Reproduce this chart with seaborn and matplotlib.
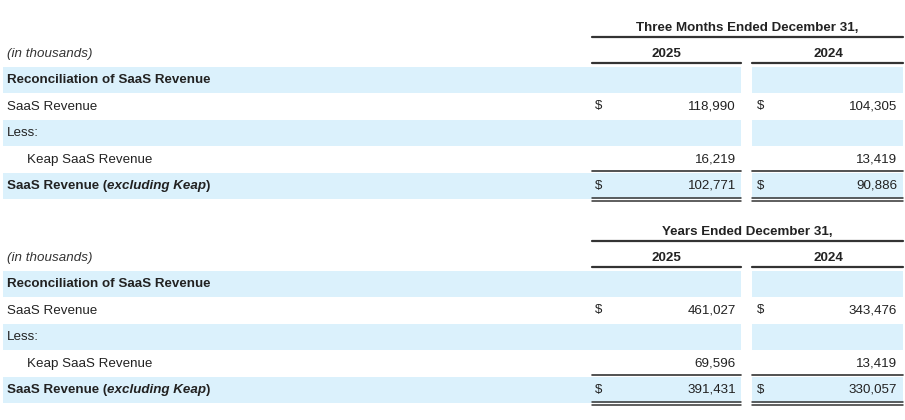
import matplotlib
matplotlib.use("Agg")
import matplotlib.pyplot as plt
import seaborn as sns

sns.set_theme(style="white")
plt.rcParams['font.family'] = ['Liberation Sans', 'DejaVu Sans']

titles = ["Three Months Ended December 31,", "Years Ended December 31,"]
years = ["2025", "2024"]
row_labels = ["Reconciliation of SaaS Revenue", "SaaS Revenue", "Less:", "Keap SaaS Revenue", "SaaS Revenue"]
vals_2025 = [[None, "118,990", None, "16,219", "102,771"],
             [None, "461,027", None, "69,596", "391,431"]]
vals_2024 = [[None, "104,305", None, "13,419", "90,886"],
             [None, "343,476", None, "13,419", "330,057"]]
dollar_rows = [1, 4]

band = "#dbf1fc"
fig = plt.figure(figsize=(9.05, 4.2), dpi=100)
ax = fig.add_axes([0, 0, 1, 1])
ax.set_xlim(0, 905); ax.set_ylim(420, 0); ax.axis("off")
fs = 9.6
c1 = (592, 741); c2 = (752, 903)

for t in range(2):
    off = 204 * t
    ax.text(747, 28 + off, titles[t], ha="center", va="center", fontsize=fs, weight="bold", color="#222")
    ax.plot([592, 903], [37 + off] * 2, color="#333", lw=1.6)
    ax.text(7, 54 + off, "(in thousands)", ha="left", va="center", fontsize=fs, style="italic", color="#333")
    ax.text(666, 54 + off, years[0], ha="center", va="center", fontsize=fs, weight="bold", color="#222")
    ax.text(828, 54 + off, years[1], ha="center", va="center", fontsize=fs, weight="bold", color="#222")
    for a, b in (c1, c2):
        ax.plot([a, b], [63 + off] * 2, color="#333", lw=1.6)
    for i, lab in enumerate(row_labels):
        yc = 80 + 26.5 * i + off
        if i in (0, 2, 4):
            ax.fill_between([3, 741], yc - 13, yc + 13, color=band, lw=0)
            ax.fill_between([752, 903], yc - 13, yc + 13, color=band, lw=0)
        bold = i in (0, 4)
        x = 27 if i == 3 else 7
        if i == 4:
            t1 = ax.text(x, yc, "SaaS Revenue (", ha="left", va="center", fontsize=fs, weight="bold", color="#222")
            fig.canvas.draw()
            bb = t1.get_window_extent()
            x2 = bb.x1
            t2 = ax.text(x2, 420 - yc, "excluding Keap", transform=None, ha="left", va="center",
                         fontsize=fs, weight="bold", style="italic", color="#222")
            bb2 = t2.get_window_extent(renderer=fig.canvas.get_renderer())
            ax.text(bb2.x1, 420 - yc, ")", transform=None, ha="left", va="center", fontsize=fs, weight="bold", color="#222")
        else:
            ax.text(x, yc, lab, ha="left", va="center", fontsize=fs, weight="bold" if bold else "normal", color="#222")
        if i in dollar_rows:
            ax.text(595, yc, "$", ha="left", va="center", fontsize=fs, color="#222")
            ax.text(757, yc, "$", ha="left", va="center", fontsize=fs, color="#222")
        if vals_2025[t][i]:
            ax.text(736, yc, vals_2025[t][i], ha="right", va="center", fontsize=fs, color="#222")
            ax.text(897, yc, vals_2024[t][i], ha="right", va="center", fontsize=fs, color="#222")
    for a, b in (c1, c2):
        ax.plot([a, b], [171 + off] * 2, color="#333", lw=1.2)
        ax.plot([a, b], [198 + off] * 2, color="#333", lw=1.1)
        ax.plot([a, b], [201 + off] * 2, color="#333", lw=1.1)

fig.savefig("out.png", dpi=100)
